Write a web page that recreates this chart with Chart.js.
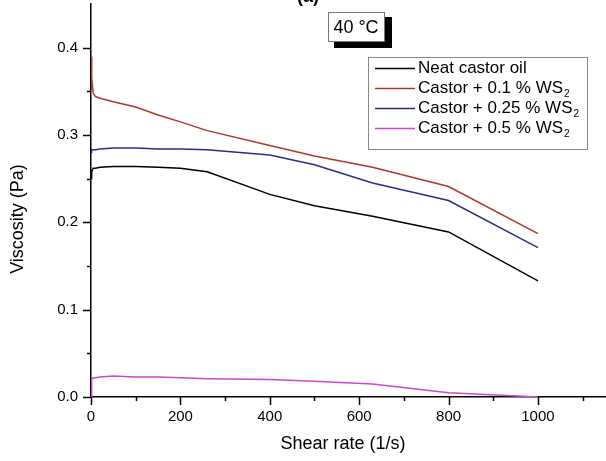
<!DOCTYPE html>
<html><head><meta charset="utf-8">
<script src="https://cdn.jsdelivr.net/npm/chart.js@4/dist/chart.umd.min.js"></script>
<style>html,body{margin:0;padding:0;background:#fff;overflow:hidden}#wrap{width:606px;height:461px;position:relative}</style>
</head><body><div id="wrap"><canvas id="c" width="606" height="461"></canvas></div>
<script>
const shearRate = [0, 1, 2, 3, 5, 10, 20, 50, 100, 150, 200, 260, 400, 500, 630, 800, 1000];
const neatCastor = [0.250, 0.255, 0.258, 0.260, 0.262, 0.262, 0.263, 0.264, 0.264, 0.263, 0.262, 0.258, 0.232, 0.219, 0.207, 0.189, 0.133];
const castor01   = [0.390, 0.360, 0.352, 0.358, 0.348, 0.344, 0.342, 0.338, 0.332, 0.323, 0.315, 0.305, 0.288, 0.276, 0.263, 0.241, 0.187];
const castor025  = [0.280, 0.282, 0.283, 0.283, 0.283, 0.283, 0.284, 0.285, 0.285, 0.284, 0.284, 0.283, 0.277, 0.266, 0.245, 0.225, 0.171];
const castor05   = [0.000, 0.015, 0.020, 0.021, 0.022, 0.022, 0.023, 0.024, 0.023, 0.023, 0.022, 0.021, 0.020, 0.018, 0.015, 0.005, 0.000];
const seriesLabels = ['Neat castor oil', 'Castor + 0.1 % WS₂', 'Castor + 0.25 % WS₂', 'Castor + 0.5 % WS₂'];
const seriesColors = ['#000000', '#b0352c', '#2c2c85', '#cf45cf'];
const xLabelledTicks = [0, 200, 400, 600, 800, 1000];
const yLabelledTicks = [0.0, 0.1, 0.2, 0.3, 0.4];
const panelTitle = '(a)';
const tempLabel = '40 °C';
const xTitle = 'Shear rate (1/s)';
const yTitle = 'Viscosity (Pa)';

const FONT = "'Liberation Sans', Arial, sans-serif";
const allSeries = [neatCastor, castor01, castor025, castor05];
const isLabelled = (arr, v) => arr.some(a => Math.abs(a - v) < 1e-6);

function drawSubText(ctx, text, x, y, size) {
  const parts = text.split('₂');
  let cx = x;
  parts.forEach((p, i) => {
    ctx.font = size + 'px ' + FONT;
    ctx.fillText(p, cx, y);
    cx += ctx.measureText(p).width;
    if (i < parts.length - 1) {
      ctx.font = Math.round(size * 0.6) + 'px ' + FONT;
      ctx.fillText('2', cx + 1, y + 6);
      cx += ctx.measureText('2').width + 1;
    }
  });
}

const decor = {
  id: 'decor',
  afterDraw(chart) {
    const ctx = chart.ctx;
    const xs = chart.scales.x, ys = chart.scales.y;
    ctx.save();
    ctx.strokeStyle = '#000';
    ctx.lineWidth = 1.5;
    xs.ticks.forEach(t => {
      if (t.value > 1100 + 1e-6) return;
      const px = Math.round(xs.getPixelForValue(t.value)) + 0.5;
      const len = isLabelled(xLabelledTicks, t.value) ? 8 : 4;
      ctx.beginPath(); ctx.moveTo(px, ys.bottom); ctx.lineTo(px, ys.bottom + len); ctx.stroke();
    });
    ys.ticks.forEach(t => {
      if (t.value > 0.4 + 1e-6) return;
      const py = Math.round(ys.getPixelForValue(t.value)) + 0.5;
      const len = isLabelled(yLabelledTicks, t.value) ? 8 : 4;
      ctx.beginPath(); ctx.moveTo(xs.left, py); ctx.lineTo(xs.left - len, py); ctx.stroke();
    });
    ctx.fillStyle = '#000';
    ctx.font = '18px ' + FONT;
    ctx.textAlign = 'center';
    ctx.textBaseline = 'middle';
    ctx.fillText(xTitle, 343, 444);
    ctx.save();
    ctx.translate(18, 219);
    ctx.rotate(-Math.PI / 2);
    ctx.fillText(yTitle, 0, 0);
    ctx.restore();
    ctx.font = 'bold 18px ' + FONT;
    ctx.textBaseline = 'alphabetic';
    ctx.fillText(panelTitle, 308, 2);
    ctx.fillStyle = '#000';
    ctx.fillRect(334, 17, 58, 31);
    ctx.fillStyle = '#fff';
    ctx.fillRect(328, 12, 57, 30);
    ctx.strokeStyle = '#777';
    ctx.lineWidth = 1;
    ctx.strokeRect(328.5, 12.5, 56, 29);
    ctx.fillStyle = '#000';
    ctx.font = '18px ' + FONT;
    ctx.textAlign = 'center';
    ctx.textBaseline = 'middle';
    ctx.fillText(tempLabel, 356, 28);
    ctx.fillStyle = '#fff';
    ctx.fillRect(368, 57, 219, 92);
    ctx.strokeStyle = '#888';
    ctx.strokeRect(368.5, 57.5, 219, 92);
    ctx.textAlign = 'left';
    ctx.textBaseline = 'middle';
    chart.data.datasets.forEach((ds, i) => {
      const y = 68 + i * 20;
      ctx.strokeStyle = ds.borderColor;
      ctx.lineWidth = 1.5;
      ctx.beginPath();
      ctx.moveTo(375, Math.round(y) + 0.5);
      ctx.lineTo(415, Math.round(y) + 0.5);
      ctx.stroke();
      ctx.fillStyle = '#000';
      drawSubText(ctx, ds.label, 418, y, 17);
    });
    ctx.restore();
  }
};

new Chart(document.getElementById('c'), {
  type: 'scatter',
  data: {
    datasets: allSeries.map((s, i) => ({
      label: seriesLabels[i],
      data: shearRate.map((x, j) => ({ x: x, y: s[j] })),
      showLine: true,
      borderColor: seriesColors[i],
      backgroundColor: seriesColors[i],
      borderWidth: 1.5,
      pointRadius: 0,
      tension: 0,
      fill: false
    }))
  },
  options: {
    responsive: false,
    animation: false,
    layout: { padding: { top: 4, right: 1, left: 0, bottom: 0 } },
    plugins: { legend: { display: false }, tooltip: { enabled: false } },
    scales: {
      x: {
        type: 'linear', min: 0, max: 1150,
        afterFit(s) { s.height = 64; s.paddingLeft = 0; s.paddingRight = 0; },
        border: { color: '#000', width: 1.5 },
        grid: { drawOnChartArea: false, drawTicks: false },
        ticks: {
          stepSize: 100, includeBounds: false, autoSkip: false, maxRotation: 0,
          color: '#000', padding: 11, font: { family: FONT, size: 15 },
          callback: v => isLabelled(xLabelledTicks, v) ? String(v) : ''
        }
      },
      y: {
        type: 'linear', min: 0, max: 0.45,
        afterFit(s) { s.width = 91; s.paddingTop = 0; s.paddingBottom = 0; },
        border: { color: '#000', width: 1.5 },
        grid: { drawOnChartArea: false, drawTicks: false },
        ticks: {
          stepSize: 0.05, autoSkip: false, includeBounds: false,
          color: '#000', padding: 13, font: { family: FONT, size: 15 },
          callback: v => isLabelled(yLabelledTicks, v) ? v.toFixed(1) : ''
        }
      }
    }
  },
  plugins: [decor]
});
</script></body></html>
